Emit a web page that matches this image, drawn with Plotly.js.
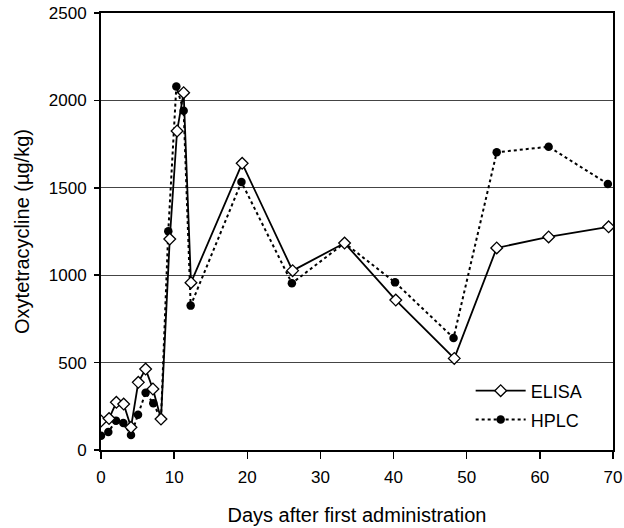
<!DOCTYPE html>
<html>
<head>
<meta charset="utf-8">
<script src="https://cdn.plot.ly/plotly-3.0.1.min.js"></script>
<style>html,body{margin:0;padding:0;background:#fff;}#chart{width:624px;height:528px;}</style>
</head>
<body>
<div id="chart"></div>
<script>
const elisaDays = [0, 1.1, 2.1, 3.1, 4.1, 5.1, 6.1, 7.1, 8.2, 9.4, 10.4, 11.3, 12.3, 19.3, 26.2, 33.3, 40.3, 48.3, 54.1, 61.2, 69.4];
const elisaValues = [166, 180, 273, 263, 130, 387, 463, 349, 177, 1207, 1825, 2044, 957, 1640, 1026, 1184, 858, 524, 1156, 1219, 1277];
const hplcDays = [0, 1.0, 2.05, 3.05, 4.1, 5.06, 6.1, 7.15, 8.2, 9.2, 10.3, 11.3, 12.26, 19.2, 26.1, 33.3, 40.2, 48.2, 54.1, 61.2, 69.3];
const hplcValues = [82, 103, 168, 154, 86, 202, 328, 267, 177, 1251, 2080, 1941, 826, 1533, 954, 1184, 959, 641, 1703, 1735, 1522];
const xTicks = [0, 10, 20, 30, 40, 50, 60, 70];
const yTicks = [0, 500, 1000, 1500, 2000, 2500];

const font = "Liberation Sans, Arial, Helvetica, sans-serif";

const traces = [
  {
    x: hplcDays, y: hplcValues, name: 'HPLC', type: 'scatter', mode: 'lines+markers',
    legend: 'legend2',
    line: {color: '#000', width: 2, dash: 'dot'},
    marker: {symbol: 'circle', size: 8.5, color: '#000'}
  },
  {
    x: elisaDays, y: elisaValues, name: 'ELISA', type: 'scatter', mode: 'lines+markers',
    legend: 'legend',
    line: {color: '#000', width: 1.8},
    marker: {symbol: 'diamond', size: 9, color: '#fff', line: {color: '#000', width: 1.3}}
  }
];

const legendCommon = {
  xanchor: 'left', yanchor: 'middle', bgcolor: 'rgba(0,0,0,0)',
  font: {family: font, size: 18, color: '#000'}, itemwidth: 50
};

const layout = {
  width: 624, height: 528,
  margin: {l: 101, r: 11, t: 13, b: 78},
  paper_bgcolor: '#fff', plot_bgcolor: '#fff',
  font: {family: font, color: '#000', size: 17},
  showlegend: true,
  legend: Object.assign({x: 0.722, y: 0.135}, legendCommon),
  legend2: Object.assign({x: 0.722, y: 0.069}, legendCommon),
  xaxis: {
    range: [0, 70], tickvals: xTicks, ticktext: xTicks.map(String),
    showgrid: false, zeroline: false,
    showline: true, linecolor: '#000', linewidth: 2, mirror: true,
    ticks: 'outside', ticklen: 7, tickwidth: 1.5, tickcolor: '#000',
    ticklabelstandoff: 4,
    tickfont: {family: font, size: 17, color: '#000'},
    title: {text: 'Days after first administration', font: {family: font, size: 20, color: '#000'}, standoff: 22}
  },
  yaxis: {
    range: [0, 2500], tickvals: yTicks, ticktext: yTicks.map(String),
    showgrid: true, gridcolor: '#444', gridwidth: 1, zeroline: false,
    showline: true, linecolor: '#000', linewidth: 2, mirror: true,
    ticks: 'outside', ticklen: 5, tickwidth: 1.5, tickcolor: '#000',
    ticklabelstandoff: 4,
    tickfont: {family: font, size: 17, color: '#000'},
    title: {text: 'Oxytetracycline (µg/kg)', font: {family: font, size: 20, color: '#000'}, standoff: 14}
  }
};

Plotly.newPlot('chart', traces, layout, {displayModeBar: false, staticPlot: true});
</script>
</body>
</html>
